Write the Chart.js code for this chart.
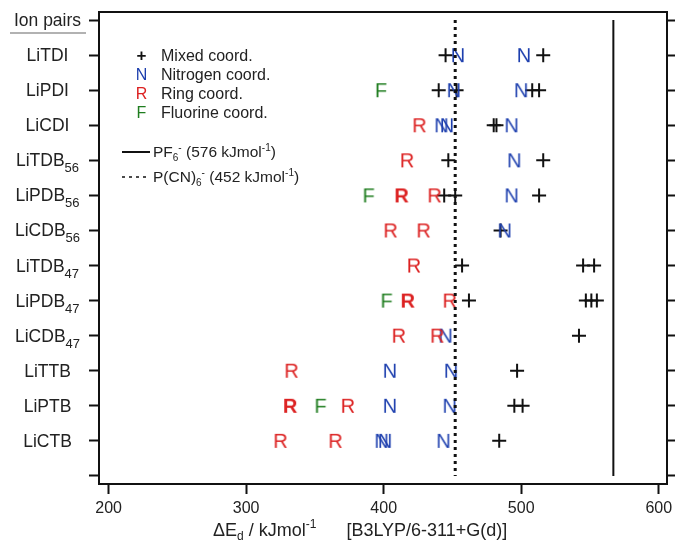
<!DOCTYPE html>
<html>
<head>
<meta charset="utf-8">
<script src="https://cdn.jsdelivr.net/npm/chart.js@4.4.1/dist/chart.umd.min.js"></script>
<style>
    html, body { margin: 0; padding: 0; background: #fff; }
</style>
</head>
<body>
<canvas id="bindingChart" width="678" height="540"></canvas>
<script>
// ion pairs, top to bottom (rows 1..12), subscripts kept apart
const ionPairs = ['LiTDI', 'LiPDI', 'LiCDI', 'LiTDB', 'LiPDB', 'LiCDB', 'LiTDB', 'LiPDB', 'LiCDB', 'LiTTB', 'LiPTB', 'LiCTB'];
const ionSubs = ['', '', '', '56', '56', '56', '47', '47', '47', '', '', ''];
const xTicks = [200, 300, 400, 500, 600];

// dissociation energies (kJ/mol) per row, one list per coordination type
const mixedCoord = [[445, 516], [440, 453, 508, 513], [480, 482], [447, 516], [444, 452, 513], [485],
    [457, 545, 553], [462, 547, 551, 555], [542], [497], [495, 501], [484]];
const nitrogenCoord = [[454, 502], [451, 500], [442, 446, 493], [495], [493], [488],
    [], [], [445], [404.5, 449], [404.5, 448], [398.5, 401, 443.5]];
const ringCoord = [[], [], [426], [417], [437], [405, 429],
    [422], [448], [411, 439], [333], [374], [325, 365]];
const ringCoordBold = [[], [], [], [], [413], [], [], [417.5], [], [], [332], []];
const fluorineCoord = [[], [398], [], [], [389], [], [], [402], [], [], [354], []];

// reference anions
const pf6Value = 567;
const pcn6Value = 452;

const FONT = '"Liberation Sans", Arial, sans-serif';
const BLUE = '#1d3fae';
const RED = '#dc2121';
const GREEN = '#1f7d1f';

function toPoints(rows) {
    const pts = [];
    rows.forEach((vals, i) => vals.forEach(v => pts.push({ x: v, y: i + 1 })));
    return pts;
}

// letter markers as small canvases
function glyph(ch, color, bold) {
    const c = document.createElement('canvas');
    c.width = 26; c.height = 26;
    const g = c.getContext('2d');
    g.font = (bold ? 'bold ' : '') + '20px ' + FONT;
    g.fillStyle = color;
    g.textAlign = 'center';
    g.textBaseline = 'alphabetic';
    g.fillText(ch, 13, 20);
    return c;
}

function letterSet(rows, ch, color, bold) {
    return { data: toPoints(rows), pointStyle: glyph(ch, color, bold), pointRadius: 10, pointHoverRadius: 10 };
}

function drawRich(ctx, x, y, parts) {
    // parts: [text, size, dy]
    parts.forEach(([t, size, dy]) => {
        ctx.font = size + 'px ' + FONT;
        ctx.fillText(t, x, y + dy);
        x += ctx.measureText(t).width;
    });
    return x;
}

function richWidth(ctx, parts) {
    let w = 0;
    parts.forEach(([t, size]) => { ctx.font = size + 'px ' + FONT; w += ctx.measureText(t).width; });
    return w;
}

const textPlugin = {
    id: 'extraTexts',
    afterDraw(chart) {
        const ctx = chart.ctx;
        const ys = chart.scales.y;
        ctx.save();
        ctx.fillStyle = '#222';
        ctx.textBaseline = 'alphabetic';
        ctx.textAlign = 'left';

        // y labels, centred
        const labelCx = 47.5;
        const head = [['Ion pairs', 17.5, 0]];
        let hw = richWidth(ctx, head);
        drawRich(ctx, labelCx - hw / 2, ys.getPixelForValue(0) + 6, head);
        ctx.strokeStyle = '#999';
        ctx.lineWidth = 1.5;
        ctx.beginPath();
        ctx.moveTo(10, 33); ctx.lineTo(86, 33);
        ctx.stroke();

        ionPairs.forEach((name, i) => {
            const parts = [[name, 17.5, 0]];
            if (ionSubs[i]) parts.push([ionSubs[i], 13, 6]);
            const w = richWidth(ctx, parts);
            drawRich(ctx, labelCx - w / 2, ys.getPixelForValue(i + 1) + 6, parts);
        });

        // legend
        const legendRows = [['+', '#111', 'Mixed coord.'], ['N', BLUE, 'Nitrogen coord.'],
            ['R', RED, 'Ring coord.'], ['F', GREEN, 'Fluorine coord.']];
        legendRows.forEach(([sym, col, txt], i) => {
            const ly = 55 + i * 19;
            ctx.fillStyle = col;
            ctx.textAlign = 'center';
            ctx.font = (sym === '+' ? 'bold 17px ' : '16px ') + FONT;
            ctx.fillText(sym, 141.5, ly + 6);
            ctx.fillStyle = '#222';
            ctx.textAlign = 'left';
            ctx.font = '16px ' + FONT;
            ctx.fillText(txt, 161, ly + 6);
        });

        ctx.strokeStyle = '#111';
        ctx.lineWidth = 2;
        ctx.beginPath();
        ctx.moveTo(122, 152); ctx.lineTo(150, 152);
        ctx.stroke();
        ctx.lineWidth = 1.5;
        ctx.setLineDash([3, 4]);
        ctx.beginPath();
        ctx.moveTo(122, 177); ctx.lineTo(150, 177);
        ctx.stroke();
        ctx.setLineDash([]);

        ctx.fillStyle = '#222';
        drawRich(ctx, 153, 157, [['PF', 15.5, 0], ['6', 10, 4], ['-', 10, -6], [' (576 kJmol', 15.5, 0], ['-1', 10, -6], [')', 15.5, 0]]);
        drawRich(ctx, 153, 182, [['P(CN)', 15.5, 0], ['6', 10, 4], ['-', 10, -6], [' (452 kJmol', 15.5, 0], ['-1', 10, -6], [')', 15.5, 0]]);

        // x axis title
        drawRich(ctx, 213, 536, [['\u0394E', 18, 0], ['d', 12, 4], [' / kJmol', 18, 0], ['-1', 12, -8], ['      [B3LYP/6-311+G(d)]', 18, 0]]);
        ctx.restore();
    }
};

const yCommon = {
    type: 'linear',
    reverse: true,
    min: -0.23,
    max: 13.23,
    afterBuildTicks: s => { s.ticks = Array.from({ length: 14 }, (_, i) => ({ value: i })); },
    ticks: { display: false },
    border: { display: true, color: '#111', width: 2 }
};

const ctx = document.getElementById('bindingChart').getContext('2d');
new Chart(ctx, {
    type: 'scatter',
    data: {
        datasets: [
            {
                type: 'line', data: [{ x: pf6Value, y: 0 }, { x: pf6Value, y: 13 }],
                borderColor: '#111', borderWidth: 2, pointRadius: 0
            },
            {
                type: 'line', data: [{ x: pcn6Value, y: 0 }, { x: pcn6Value, y: 13 }],
                borderColor: '#111', borderWidth: 3, borderDash: [3, 4], pointRadius: 0
            },
            letterSet(ringCoord, 'R', RED, false),
            letterSet(ringCoordBold, 'R', RED, true),
            letterSet(fluorineCoord, 'F', GREEN, false),
            letterSet(nitrogenCoord, 'N', BLUE, false),
            {
                data: toPoints(mixedCoord), pointStyle: 'cross', pointRadius: 7, pointHoverRadius: 7,
                borderColor: '#111', borderWidth: 2
            }
        ]
    },
    options: {
        responsive: false,
        animation: false,
        devicePixelRatio: 1,
        layout: { padding: { top: 12, left: 0, right: 0, bottom: 0 } },
        plugins: { legend: { display: false }, tooltip: { enabled: false } },
        scales: {
            x: {
                type: 'linear',
                position: 'bottom',
                min: 193,
                max: 606,
                afterBuildTicks: s => { s.ticks = xTicks.map(v => ({ value: v })); },
                afterFit: s => { s.height = 56; },
                grid: { drawOnChartArea: false, tickLength: 10, tickWidth: 2, tickColor: '#111' },
                border: { display: true, color: '#111', width: 2 },
                ticks: { color: '#222', font: { size: 16, family: FONT }, padding: 5, maxRotation: 0 }
            },
            x2: {
                type: 'linear',
                position: 'top',
                min: 193,
                max: 606,
                afterFit: s => { s.height = 0; },
                grid: { display: false },
                ticks: { display: false },
                border: { display: true, color: '#111', width: 2 }
            },
            y: Object.assign({}, yCommon, {
                position: 'left',
                afterFit: s => { s.width = 99; },
                grid: { drawOnChartArea: false, tickLength: 10, tickWidth: 2, tickColor: '#111' }
            }),
            y2: Object.assign({}, yCommon, {
                position: 'right',
                afterFit: s => { s.width = 8; },
                grid: { drawOnChartArea: false, tickLength: 8, tickWidth: 2, tickColor: '#111' }
            })
        }
    },
    plugins: [textPlugin]
});
</script>
</body>
</html>
